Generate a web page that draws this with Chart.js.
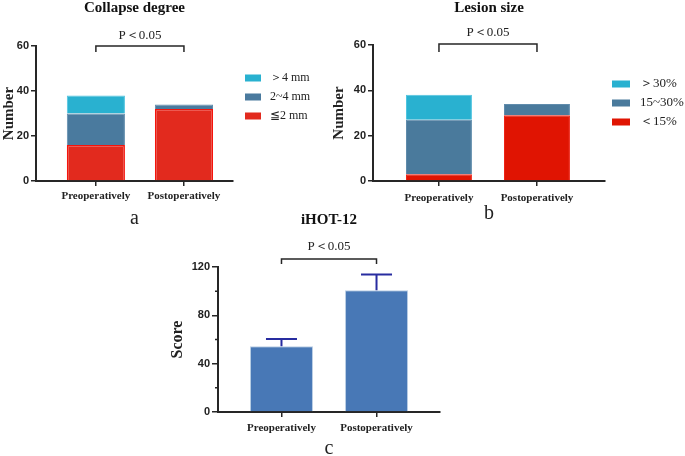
<!DOCTYPE html>
<html>
<head>
<meta charset="utf-8">
<script src="https://cdn.jsdelivr.net/npm/chart.js@4.4.1/dist/chart.umd.min.js"></script>
<style>
  html, body { margin: 0; padding: 0; background: #fff; }
  body { width: 685px; height: 456px; position: relative; overflow: hidden; }
  canvas { position: absolute; }
</style>
</head>
<body>
<canvas id="chartA" width="340" height="230" style="left:0;top:0"></canvas>
<canvas id="chartB" width="355" height="230" style="left:330px;top:0"></canvas>
<canvas id="chartC" width="300" height="256" style="left:160px;top:200px"></canvas>
<script>
// data
const categories = ['Preoperatively', 'Postoperatively'];

const collapseLabels = ['≦2 mm', '2~4 mm', '＞4 mm'];
const collapseLow = [16, 32];
const collapseMid = [14, 2];
const collapseHigh = [8, 0];

const lesionLabels = ['＜15%', '15~30%', '＞30%'];
const lesionLow = [3, 29];
const lesionMid = [24, 5];
const lesionHigh = [11, 0];

const ihotMean = [54.5, 100.7];
const ihotSd = [6, 13];

const countTicks = [0, 20, 40, 60];
const scoreTicks = [0, 40, 80, 120];
const scoreMinorTicks = [20, 60, 100];

const serif = '"Liberation Serif", "Times New Roman", serif';
const sans = '"Liberation Sans", Arial, sans-serif';
const ink = '#222';
const axisColor = '#262626';

Chart.defaults.font.family = serif;
Chart.defaults.color = ink;
Chart.defaults.animation = false;

const toPoints = values => values.map((v, i) => ({ x: i, y: v }));

// legend on the right, top item = last dataset
const sideLegend = {
  id: 'sideLegend',
  afterDraw(chart, args, opts) {
    const { ctx } = chart;
    const sets = chart.data.datasets.slice().reverse();
    ctx.save();
    ctx.font = opts.font;
    ctx.textBaseline = 'middle';
    sets.forEach((ds, i) => {
      const y = opts.y + i * opts.gap;
      ctx.fillStyle = ds.backgroundColor;
      ctx.fillRect(opts.x, y - opts.boxH / 2, opts.boxW, opts.boxH);
      ctx.fillStyle = ink;
      ctx.fillText(ds.label, opts.x + opts.boxW + opts.textGap, y);
    });
    ctx.restore();
  }
};

// significance bracket between the two bars
const sigBracket = {
  id: 'sigBracket',
  afterDraw(chart, args, opts) {
    const { ctx, chartArea, scales: { x } } = chart;
    const x0 = x.getPixelForValue(0), x1 = x.getPixelForValue(1);
    const yb = chartArea.top + opts.barY;
    ctx.save();
    ctx.strokeStyle = axisColor;
    ctx.lineWidth = 1.5;
    ctx.beginPath();
    ctx.moveTo(x0, yb + opts.drop);
    ctx.lineTo(x0, yb);
    ctx.lineTo(x1, yb);
    ctx.lineTo(x1, yb + opts.drop);
    ctx.stroke();
    ctx.font = '13px ' + serif;
    ctx.fillStyle = ink;
    ctx.textAlign = 'center';
    ctx.textBaseline = 'middle';
    ctx.fillText(opts.text, (x0 + x1) / 2, chartArea.top + opts.textY);
    ctx.restore();
  }
};

const errorBars = {
  id: 'errorBars',
  afterDatasetsDraw(chart, args, opts) {
    const { ctx, scales: { x, y } } = chart;
    ctx.save();
    ctx.strokeStyle = opts.color;
    ctx.lineWidth = 2;
    ihotMean.forEach((m, i) => {
      const px = x.getPixelForValue(i);
      const top = y.getPixelForValue(m + ihotSd[i]);
      ctx.beginPath();
      ctx.moveTo(px, y.getPixelForValue(m));
      ctx.lineTo(px, top);
      ctx.moveTo(px - opts.cap / 2, top);
      ctx.lineTo(px + opts.cap / 2, top);
      ctx.stroke();
    });
    ctx.restore();
  }
};

const minorTicks = {
  id: 'minorTicks',
  afterDraw(chart, args, opts) {
    const { ctx, chartArea, scales: { y } } = chart;
    ctx.save();
    ctx.strokeStyle = axisColor;
    ctx.lineWidth = 1.5;
    ctx.beginPath();
    scoreMinorTicks.forEach(v => {
      const py = y.getPixelForValue(v);
      ctx.moveTo(chartArea.left, py);
      ctx.lineTo(chartArea.left - opts.length, py);
    });
    ctx.stroke();
    ctx.restore();
  }
};

function xAxis(o) {
  return {
    type: 'linear',
    stacked: true,
    offset: false,
    min: o.min,
    max: o.max,
    afterBuildTicks: s => { s.ticks = categories.map((_, i) => ({ value: i })); },
    afterFit: s => { s.height = o.height; },
    ticks: {
      callback: v => categories[v],
      font: { size: 11, weight: 'bold' },
      color: ink,
      padding: o.tickPad,
      maxRotation: 0,
      autoSkip: false
    },
    grid: { offset: false, drawOnChartArea: false, tickLength: 5, color: axisColor, lineWidth: 1.5 },
    border: { color: axisColor, width: 2 },
    title: { display: true, text: o.label, font: { size: 20 }, color: ink, padding: { top: 0, bottom: o.labelPad } }
  };
}

function yAxis(o) {
  return {
    stacked: true,
    min: 0,
    max: o.max,
    afterFit: s => { s.width = o.width; },
    afterBuildTicks: s => { s.ticks = o.ticks.map(v => ({ value: v })); },
    ticks: { font: { family: sans, size: 11, weight: 'bold' }, color: ink, padding: 2 },
    grid: { drawOnChartArea: false, tickLength: o.tickLength || 5, color: axisColor, lineWidth: 1.5 },
    border: { color: axisColor, width: 2 },
    title: { display: true, text: o.title, font: { size: o.titleSize || 15, weight: 'bold' }, color: ink, padding: { top: o.titlePad || 0, bottom: 0 } }
  };
}

const noBorderWhenEmpty = w => c => (c.raw && c.raw.y ? w : 0);

// a: Collapse degree
new Chart(document.getElementById('chartA'), {
  type: 'bar',
  data: {
    datasets: [
      { label: collapseLabels[0], data: toPoints(collapseLow), backgroundColor: 'rgb(226,42,30)', borderColor: 'rgb(245,20,12)', borderWidth: noBorderWhenEmpty(1.5) },
      { label: collapseLabels[1], data: toPoints(collapseMid), backgroundColor: 'rgb(74,122,158)', borderColor: 'rgb(96,140,172)', borderWidth: noBorderWhenEmpty(1) },
      { label: collapseLabels[2], data: toPoints(collapseHigh), backgroundColor: 'rgb(41,177,208)', borderColor: 'rgb(80,196,224)', borderWidth: noBorderWhenEmpty(1) }
    ]
  },
  options: {
    responsive: false,
    layout: { padding: { left: 0, right: 107, top: 0, bottom: 0 } },
    datasets: { bar: { categoryPercentage: 1, barPercentage: 0.66 } },
    scales: {
      x: xAxis({ min: -0.68, max: 1.557, height: 49, tickPad: 4, label: 'a', labelPad: -1 }),
      y: yAxis({ max: 60, ticks: countTicks, width: 36, title: 'Number' })
    },
    plugins: {
      legend: { display: false },
      tooltip: { enabled: false },
      title: { display: true, text: 'Collapse degree', fullSize: false, font: { size: 15, weight: 'bold' }, color: '#111', padding: { top: -1, bottom: 29 } },
      sideLegend: { x: 245, y: 78, gap: 19, boxW: 16, boxH: 7, textGap: 9, font: '12px ' + serif },
      sigBracket: { text: 'P＜0.05', barY: 0, drop: 6, textY: -10 }
    }
  },
  plugins: [sideLegend, sigBracket]
});

// b: Lesion size
new Chart(document.getElementById('chartB'), {
  type: 'bar',
  data: {
    datasets: [
      { label: lesionLabels[0], data: toPoints(lesionLow), backgroundColor: 'rgb(224,20,2)', borderColor: 'rgb(238,36,24)', borderWidth: noBorderWhenEmpty(1) },
      { label: lesionLabels[1], data: toPoints(lesionMid), backgroundColor: 'rgb(74,122,156)', borderColor: 'rgb(96,140,172)', borderWidth: noBorderWhenEmpty(1) },
      { label: lesionLabels[2], data: toPoints(lesionHigh), backgroundColor: 'rgb(41,177,208)', borderColor: 'rgb(80,196,224)', borderWidth: noBorderWhenEmpty(1) }
    ]
  },
  options: {
    responsive: false,
    layout: { padding: { left: 0, right: 80, top: 0, bottom: 0 } },
    datasets: { bar: { categoryPercentage: 1, barPercentage: 0.673 } },
    scales: {
      x: xAxis({ min: -0.673, max: 1.694, height: 49, tickPad: 6, label: 'b', labelPad: 4 }),
      y: yAxis({ max: 60, ticks: countTicks, width: 43, title: 'Number' })
    },
    plugins: {
      legend: { display: false },
      tooltip: { enabled: false },
      title: { display: true, text: 'Lesion size', fullSize: false, font: { size: 15, weight: 'bold' }, color: '#111', padding: { top: -1, bottom: 28 } },
      sideLegend: { x: 282, y: 84, gap: 19, boxW: 18, boxH: 7, textGap: 10, font: '13px ' + serif },
      sigBracket: { text: 'P＜0.05', barY: -1, drop: 8, textY: -12 }
    }
  },
  plugins: [sideLegend, sigBracket]
});

// c: iHOT-12
new Chart(document.getElementById('chartC'), {
  type: 'bar',
  data: {
    datasets: [
      { label: 'iHOT-12', data: toPoints(ihotMean), backgroundColor: 'rgb(72,120,182)', borderColor: 'rgb(186,206,228)', borderWidth: 1 }
    ]
  },
  options: {
    responsive: false,
    layout: { padding: { left: 0, right: 20, top: 0, bottom: 0 } },
    datasets: { bar: { categoryPercentage: 1, barPercentage: 0.663 } },
    scales: {
      x: xAxis({ min: -0.668, max: 1.668, height: 44, tickPad: 5, label: 'c', labelPad: -5 }),
      y: yAxis({ max: 120, ticks: scoreTicks, width: 58, title: 'Score', titleSize: 16, titlePad: 8, tickLength: 6 })
    },
    plugins: {
      legend: { display: false },
      tooltip: { enabled: false },
      title: { display: true, text: 'iHOT-12', fullSize: false, font: { size: 15, weight: 'bold' }, color: '#111', padding: { top: 11, bottom: 38 } },
      sigBracket: { text: 'P＜0.05', barY: -8, drop: 5, textY: -20 },
      errorBars: { color: 'rgb(40,44,160)', cap: 31 },
      minorTicks: { length: 3 }
    }
  },
  plugins: [sigBracket, errorBars, minorTicks]
});
</script>
</body>
</html>
